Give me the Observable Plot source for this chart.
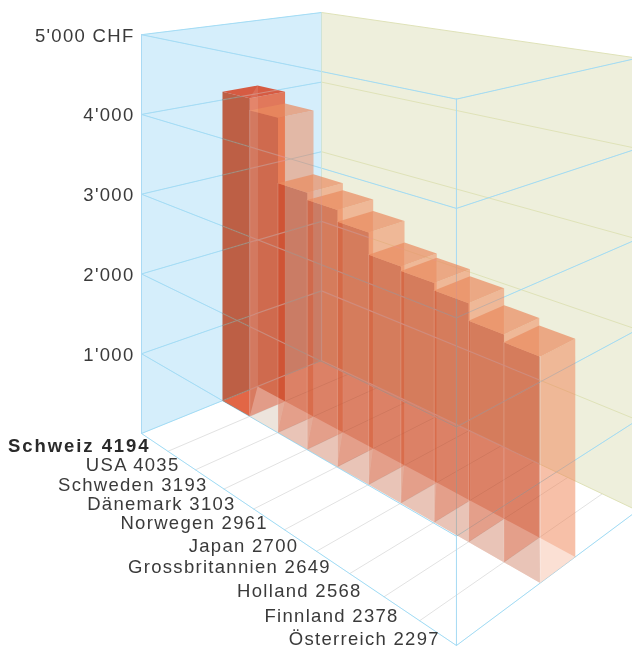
<!DOCTYPE html>
<html>
<head>
<meta charset="utf-8">
<script src="https://cdn.jsdelivr.net/npm/d3@7"></script>
<script src="https://cdn.jsdelivr.net/npm/@observablehq/plot@0.6"></script>
<style>
  html, body { margin: 0; padding: 0; background: #fff; overflow: hidden; }
  svg text { letter-spacing: 1.3px; }
  svg g[font-weight="bold"] text { letter-spacing: 1.95px; }
</style>
</head>
<body>
<script>
// Monthly cost per country, highest first
const countries = ["Schweiz", "USA", "Schweden", "Dänemark", "Norwegen", "Japan", "Grossbritannien", "Holland", "Finnland", "Österreich"];
const amounts = [4194, 4035, 3193, 3103, 2961, 2700, 2649, 2568, 2378, 2297];
const axisValues = [1000, 2000, 3000, 4000, 5000];
const axisLabels = ["1'000", "2'000", "3'000", "4'000", "5'000 CHF"];
const gridLevels = [0, 1000, 2000, 3000, 4000, 5000];
const labelShiftX = [0, 2, 2, 1, 3, 2, 2, -1, 1, 6];
const labelShiftY = [0, 1, 2, 1, 0, 2, 1, 2, 3, 2];

// Two-point perspective: floor homography plus a common horizon for heights
const H = {a: 186, b: 231, c: 141, d: 29.6, e: -15.8, f: 433, g: -0.2828, h: 0.1588};
const horizon = -140, fullHeight = 0.696, axisMax = 5000, barFactor = 0.98;
const stripFront = 0.4137, stripBack = 0.61;
const slot = (t) => t * (1 + 0.148 * (1 - t));

function project(u, v, value = 0, factor = 1) {
  const w = H.g * u + H.h * v + 1;
  const x = (H.a * u + H.b * v + H.c) / w;
  const yFloor = (H.d * u + H.e * v + H.f) / w;
  return {x, y: yFloor - (value / axisMax) * fullHeight * (yFloor - horizon) * factor};
}

const polygon = (points, options) =>
  Plot.line(points, {x: "x", y: "y", curve: "linear-closed", stroke: "none", ...options});
const segment = (a, b, stroke, width = 1, opacity = 1, extra = {}) =>
  Plot.line([a, b], {x: "x", y: "y", stroke, strokeWidth: width, strokeOpacity: opacity, ...extra});

const BLUE_LINE = "#9bdaf4", OLIVE_LINE = "#dfe2b8", GRID_LINE = "#e2e2e2";
const marks = [];

// Walls
marks.push(polygon([project(0, 1, 0), project(1, 1, 0), project(1, 1, axisMax), project(0, 1, axisMax)], {fill: "#eeefdc"}));
marks.push(polygon([project(0, 0, 0), project(0, 1, 0), project(0, 1, axisMax), project(0, 0, axisMax)], {fill: "#d5eefb"}));

// Floor rulings at the country boundaries
for (let i = 1; i < countries.length; i++) {
  const u = slot(i / countries.length);
  marks.push(segment(project(u, 0), project(u, 1), GRID_LINE));
}

// Level lines round the box
const boxLines = [];
for (const level of gridLevels) {
  boxLines.push([project(0, 1, level), project(1, 1, level), OLIVE_LINE]);
  boxLines.push([project(0, 0, level), project(0, 1, level), BLUE_LINE]);
  boxLines.push([project(0, 0, level), project(1, 0, level), BLUE_LINE]);
  boxLines.push([project(1, 0, level), project(1, 1, level), BLUE_LINE]);
}
boxLines.push([project(0, 0, 0), project(0, 0, axisMax), BLUE_LINE]);
boxLines.push([project(0, 1, 0), project(0, 1, axisMax), "#cfe3d6"]);
boxLines.push([project(1, 0, 0), project(1, 0, axisMax), BLUE_LINE]);
for (const [a, b, color] of boxLines) marks.push(segment(a, b, color));

// Bars, back to front along the country axis
const bars = amounts.map((amount, i) => {
  const u0 = slot(i / amounts.length), u1 = slot((i + 1) / amounts.length);
  const corner = (u, v, value) => project(u, v, value, barFactor);
  return {
    i, amount,
    L: corner(u0, stripFront, 0), B: corner(u1, stripFront, 0),
    R: corner(u1, stripBack, 0), T: corner(u0, stripBack, 0),
    Lt: corner(u0, stripFront, amount), Bt: corner(u1, stripFront, amount),
    Rt: corner(u1, stripBack, amount), Tt: corner(u0, stripBack, amount)
  };
});

const sideStyle = (i) => i === 0 ? {fill: "rgb(226,104,68)", fillOpacity: 0.88} : {fill: "rgb(240,130,82)", fillOpacity: 0.5};
const frontStyle = (i) =>
  i === 0 ? {fill: "rgb(226,102,70)", mixBlendMode: "multiply"}
  : i === 1 ? {fill: "rgb(235,225,217)", mixBlendMode: "multiply"}
  : {fill: "rgb(228,172,155)", mixBlendMode: "multiply"};
const topStyle = (i) => i === 0 ? {fill: "rgb(214,82,56)", fillOpacity: 0.95} : {fill: "rgb(234,138,94)", fillOpacity: 0.7};

for (const bar of bars) {
  marks.push(polygon([bar.B, bar.R, bar.Rt, bar.Bt], sideStyle(bar.i)));
  marks.push(polygon([bar.L, bar.B, bar.Bt, bar.Lt], frontStyle(bar.i)));
  marks.push(polygon([bar.Lt, bar.Bt, bar.Rt, bar.Tt], topStyle(bar.i)));
}

// Pale sheen where the diagonal of the first bar catches the light
marks.push(polygon([bars[0].B, bars[0].T, bars[0].Tt, bars[0].Bt], {fill: "#fff", fillOpacity: 0.1}));

// Bright corner edges
for (const bar of bars) {
  if (bar.i > 0) marks.push(segment(bar.L, bar.Lt, "#fff", 1, 0.18));
  marks.push(segment(bar.T, bar.Tt, "#fff", 0.8, 0.08));
}
const last = bars[bars.length - 1];
marks.push(segment(last.B, last.Bt, "#fff", 1, 0.3));

// Reflections of the bars on the floor
for (const bar of bars) {
  if (bar.i > 0) marks.push(polygon([bar.L, bar.B, bar.T], {fill: "#f0e8e2", fillOpacity: 0.4}));
  if (bar.i < bars.length - 1) marks.push(polygon([bar.B, bar.R, bar.T], {fill: "#fff", fillOpacity: bar.i === 0 ? 0.33 : 0.24}));
  else marks.push(polygon([bar.B, bar.R, bar.T], {fill: "#fff", fillOpacity: 0.5}));
}

// The box lines show through the bars as a muted grey
for (const [a, b] of boxLines) {
  marks.push(segment(a, b, "rgb(170,140,125)", 1.2, 1, {mixBlendMode: "lighten"}));
}

// Value axis labels on the left wall
const axisRows = axisValues.map((value, i) => ({...project(0, 0, value), label: axisLabels[i]}));
marks.push(Plot.text(axisRows, {
  x: "x", y: "y", text: "label", dx: -7, dy: 1, textAnchor: "end", lineAnchor: "middle",
  fontFamily: "Liberation Sans", fontSize: 18.5, fill: "#3a3a3a"
}));

// Country labels along the floor edge
const rows = countries.map((name, i) => {
  const p = project(slot((i + 0.5) / countries.length), 0);
  return {x: p.x - 4 + labelShiftX[i], y: p.y + 4 + labelShiftY[i], label: `${name} ${amounts[i]}`, strong: i === 0};
});
marks.push(Plot.text(rows.filter((d) => d.strong), {
  x: "x", y: "y", text: "label", textAnchor: "end", lineAnchor: "middle",
  fontFamily: "Liberation Sans", fontSize: 18.5, fontWeight: "bold", fill: "#2a2a2a"
}));
marks.push(Plot.text(rows.filter((d) => !d.strong), {
  x: "x", y: "y", text: "label", textAnchor: "end", lineAnchor: "middle",
  fontFamily: "Liberation Sans", fontSize: 18.5, fill: "#3a3a3a"
}));

const chart = Plot.plot({
  width: 632, height: 649,
  margin: 0,
  x: {domain: [0, 632], range: [0, 632], axis: null},
  y: {domain: [0, 649], range: [0, 649], axis: null},
  marks
});
document.body.appendChild(chart);
</script>
</body>
</html>
